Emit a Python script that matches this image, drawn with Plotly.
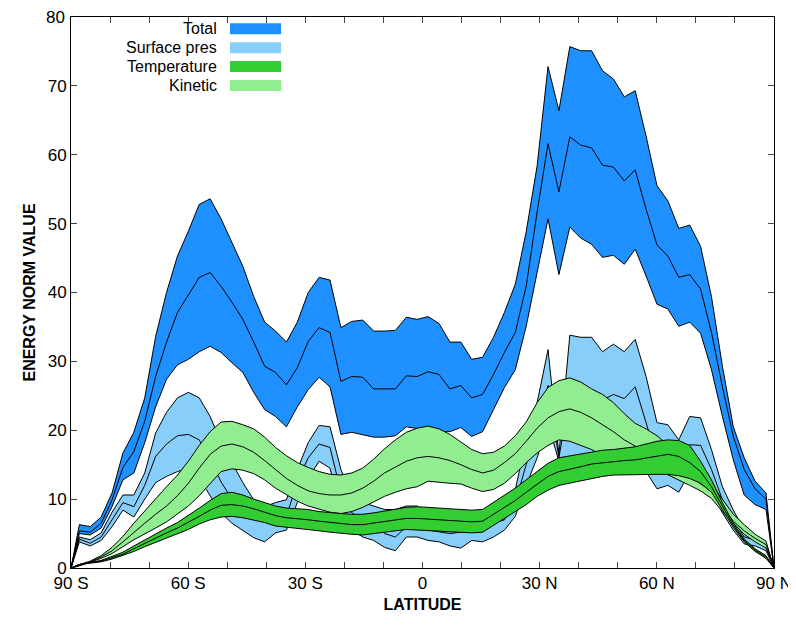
import plotly.graph_objects as go

lat_inner = [round(-87.86 + 2.7906 * k, 2) for k in range(64)]
lat = [-90.0] + lat_inner + [90.0]

total_upper = [6.3,6.0,7.4,10.9,16.7,19.7,24.7,33.6,40.0,45.3,48.9,52.8,53.6,50.7,47.3,43.8,39.4,35.7,34.4,32.8,35.7,40.0,42.2,41.8,34.9,
               35.8,36.0,34.4,34.4,34.5,36.4,36.1,
               36.5,35.5,32.8,32.8,30.3,30.6,33.5,37.1,41.2,48.8,58.4,72.8,66.4,75.7,75.1,75.1,72.2,71.0,68.4,69.3,62.7,55.5,53.3,49.3,49.8,46.7,39.4,29.3,20.5,16.0,12.6,10.9]
total_mid = [5.4,5.2,6.5,9.9,14.6,16.9,21.3,27.8,32.8,37.1,39.7,42.2,42.9,40.9,38.6,36.1,32.8,29.3,28.4,26.6,29.1,32.9,34.9,34.2,27.1,27.8,27.7,26.0,26.0,26.0,27.9,27.8,
             28.5,28.1,26.0,26.5,24.7,25.2,28.1,31.3,34.2,40.9,51.7,61.6,54.6,62.6,61.4,61.0,58.5,58.2,56.2,57.8,52.1,46.9,45.3,42.2,42.6,40.5,34.2,26.3,19.1,14.3,11.5,10.0]
total_lower = [5.0,4.8,5.8,8.9,12.8,13.8,18.2,23.4,27.4,29.5,30.3,31.4,32.2,31.3,29.8,28.4,25.5,23.0,22.0,20.5,23.4,25.9,27.7,26.3,19.4,19.7,19.4,19.0,19.0,19.2,20.5,20.3,
               20.0,19.8,19.8,20.4,19.1,19.8,23.0,26.2,28.8,35.1,42.9,50.7,42.6,49.5,47.9,47.0,45.1,45.4,44.1,46.3,42.4,38.3,37.6,35.1,35.7,34.1,28.8,22.0,15.7,10.6,9.2,8.5]

sp_upper = [4.5,4.1,5.1,8.1,10.6,10.6,13.8,19.6,22.6,24.7,25.5,24.7,22.0,18.2,15.3,12.4,9.9,8.9,9.5,9.9,14.3,18.2,20.7,20.5,14.3,10.5,9.5,9.0,8.5,8.5,9.0,9.0,
            7.5,7.0,7.0,7.0,7.0,7.0,7.5,8.0,11.4,18.6,24.0,31.7,16.5,33.8,33.5,33.5,31.4,32.5,31.4,33.2,27.8,21.1,20.8,18.6,22.0,21.8,17.2,11.8,8.4,5.5,4.5,3.5]
sp_mid = [4.2,3.6,4.5,7.0,9.5,8.9,12.0,16.2,18.0,19.2,19.4,18.6,15.7,12.5,10.0,8.5,7.5,6.8,7.2,7.5,12.5,16.0,18.0,17.5,11.0,8.0,7.0,6.5,5.0,4.5,6.0,6.0,
          5.5,5.3,5.0,5.2,5.5,5.5,6.5,7.0,9.5,15.0,20.0,26.5,16.0,25.5,25.0,24.6,24.4,25.2,24.6,26.3,21.1,15.7,15.3,14.5,17.9,17.8,14.3,9.9,7.0,4.5,4.1,3.2]
sp_lower = [3.8,3.2,4.0,6.0,8.4,7.4,10.0,12.4,13.3,14.0,14.5,13.0,10.5,8.0,6.5,5.5,4.4,3.8,5.1,5.5,9.5,13.0,15.5,14.5,8.0,5.5,4.5,4.0,3.0,2.5,4.5,4.5,
            4.0,3.8,3.2,2.9,4.0,3.8,4.5,5.5,7.5,12.0,16.0,21.0,15.5,14.0,14.5,14.5,15.0,15.0,15.5,16.0,14.0,11.5,12.0,11.0,14.0,13.5,11.0,8.0,5.5,3.5,3.2,2.5]

temp_upper = [0.5,0.8,1.1,1.7,2.3,3.2,4.1,5.0,5.8,6.6,7.6,8.7,9.8,10.8,11.0,10.6,10.0,9.5,9.0,8.7,8.6,8.5,8.2,8.0,7.9,7.8,7.8,8.0,8.3,8.6,8.8,8.9,
              8.8,8.6,8.5,8.5,8.4,8.5,9.5,10.5,11.6,12.8,14.0,15.2,16.0,16.3,16.6,16.9,17.1,17.2,17.4,17.6,18.0,18.4,18.6,18.5,17.8,15.5,12.8,9.5,6.5,4.2,2.8,1.8]
temp_mid = [0.5,0.8,1.0,1.5,2.0,2.8,3.6,4.4,5.1,5.8,6.6,7.5,8.4,9.1,9.2,9.0,8.6,8.1,7.6,7.3,7.2,7.0,6.8,6.6,6.4,6.3,6.3,6.5,6.8,7.0,7.2,7.2,
            7.1,7.0,6.8,6.8,6.7,6.8,7.8,8.8,9.8,11.0,12.2,13.3,14.0,14.3,14.7,15.1,15.3,15.5,15.6,15.7,16.0,16.3,16.5,16.2,15.3,14.0,11.8,9.0,6.2,4.0,2.6,1.6]
temp_lower = [0.5,0.7,0.9,1.3,1.8,2.4,3.1,3.8,4.4,5.0,5.6,6.4,7.0,7.4,7.5,7.3,7.0,6.6,6.1,5.9,5.8,5.6,5.4,5.2,5.0,4.9,4.8,5.0,5.2,5.4,5.6,5.6,
              5.5,5.4,5.3,5.2,5.1,5.2,6.3,7.2,8.2,9.2,10.4,11.3,12.0,12.3,12.6,13.0,13.3,13.5,13.6,13.6,13.6,13.6,13.6,13.4,13.0,12.3,11.0,8.5,5.9,3.8,2.4,1.4]

kin_upper = [0.5,1.0,1.8,3.0,4.6,6.5,8.3,10.0,11.8,13.5,15.5,17.8,19.8,21.2,21.3,20.8,20.2,19.0,17.5,16.3,15.3,14.6,14.0,13.6,13.5,13.8,14.5,15.8,17.3,18.6,19.7,20.3,
             20.6,20.2,19.4,18.3,17.2,16.6,16.8,17.7,19.2,21.2,24.0,26.2,27.2,27.6,27.0,26.0,25.2,24.0,22.4,21.0,20.2,19.2,17.8,16.5,15.5,14.0,12.2,10.0,7.8,6.3,4.9,3.9]
kin_mid = [0.4,0.9,1.6,2.5,3.8,5.2,6.5,7.8,9.0,10.5,12.3,14.5,16.5,17.7,18.0,17.6,16.8,15.6,14.3,13.0,12.0,11.2,10.8,10.6,10.6,10.9,11.6,12.6,13.8,14.7,15.5,16.0,
           16.2,16.0,15.6,15.0,14.3,13.8,14.2,15.3,16.6,18.4,20.3,21.8,22.7,23.1,22.6,21.8,20.8,19.8,18.6,17.7,17.2,16.5,15.6,14.6,13.6,12.2,11.2,9.0,6.8,5.4,4.3,3.4]
kin_lower = [0.3,0.8,1.4,2.1,3.1,4.1,5.0,5.8,6.7,7.8,9.0,10.5,12.3,14.0,14.4,14.2,13.7,12.8,11.6,10.6,9.7,9.0,8.5,8.1,7.9,8.2,8.8,9.6,10.4,11.0,11.5,11.8,
             12.6,12.5,12.3,12.2,11.6,11.1,11.4,12.3,13.7,15.3,16.7,17.8,18.6,18.4,17.8,17.2,16.3,15.4,14.6,14.3,14.3,14.3,13.5,12.8,12.0,11.2,10.1,8.2,6.6,4.9,3.8,2.9]

series = [
    ("Total", total_upper, total_mid, total_lower, "#1E90FF"),
    ("Surface pres", sp_upper, sp_mid, sp_lower, "#87CEFA"),
    ("Kinetic", kin_upper, kin_mid, kin_lower, "#90EE90"),
    ("Temperature", temp_upper, temp_mid, temp_lower, "#32CD32"),
]

fig = go.Figure()
for name, up, mid, lo, col in series:
    up = [0] + up + [0]
    mid = [0] + mid + [0]
    lo = [0] + lo + [0]
    fig.add_trace(go.Scatter(x=lat + lat[::-1], y=up + lo[::-1], fill="toself", fillcolor=col,
                             mode="lines", line=dict(color="black", width=1), showlegend=False, hoverinfo="skip"))
    fig.add_trace(go.Scatter(x=lat, y=mid, mode="lines", line=dict(color="black", width=1),
                             showlegend=False, hoverinfo="skip"))

legend_items = [("Total", "#1E90FF"), ("Surface pres", "#87CEFA"), ("Temperature", "#32CD32"), ("Kinetic", "#90EE90")]
for i, (txt, col) in enumerate(legend_items):
    yy = 78.3 - i * 2.75
    fig.add_annotation(x=-52.0, y=yy, xref="x", yref="y", text=txt, showarrow=False, xanchor="right",
                       font=dict(family="Liberation Sans, Arial", size=16, color="black"))
    fig.add_shape(type="rect", x0=-49.3, x1=-36.2, y0=yy - 0.8, y1=yy + 0.8, xref="x", yref="y",
                  fillcolor=col, line=dict(width=0))

fig.add_annotation(x=0, xref="paper", xshift=-4, y=80, yref="y", text="80", showarrow=False,
                   xanchor="right", yanchor="middle", font=dict(family="Liberation Sans, Arial", size=17))

xt = list(range(-90, 91, 10))
xl = {-90: "90 S", -60: "60 S", -30: "30 S", 0: "0", 30: "30 N", 60: "60 N", 90: "90 N"}
fig.update_layout(
    width=796, height=625, plot_bgcolor="white", paper_bgcolor="white",
    margin=dict(l=63, r=30, t=9, b=65),
    font=dict(family="Liberation Sans, Arial", size=17, color="black"),
    xaxis=dict(range=[-90, 90], tickvals=xt, ticktext=[xl.get(v, "") for v in xt], ticks="inside",
               ticklen=6, mirror="allticks", showline=True, linecolor="black", linewidth=1, showgrid=False,
               zeroline=False, automargin=False,
               title=dict(text="<b>LATITUDE</b>", font=dict(size=16), standoff=6)),
    yaxis=dict(range=[0, 80], tickvals=list(range(0, 81, 10)), ticktext=[str(v) if v < 80 else "" for v in range(0, 81, 10)],
               ticks="inside", ticklen=6, mirror="allticks", showline=True,
               linecolor="black", linewidth=1, showgrid=False, zeroline=False, automargin=False,
               title=dict(text="<b>ENERGY NORM VALUE</b>", font=dict(size=16), standoff=8)),
)
fig.write_html("out.html")
